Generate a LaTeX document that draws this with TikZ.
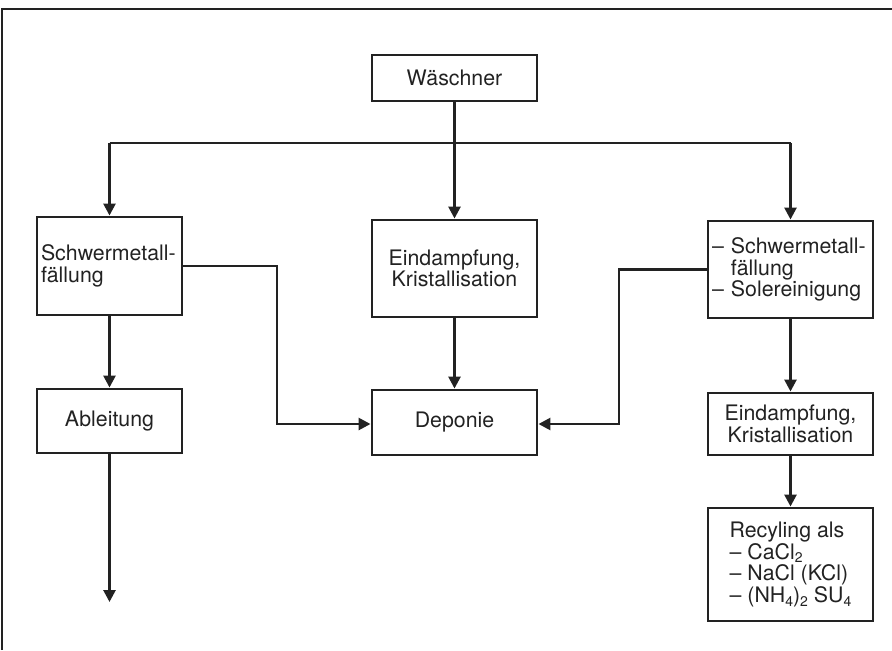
\documentclass[tikz,border=0pt]{standalone}
\usepackage{fontspec}
\setmainfont{TeX Gyre Heros}
\usetikzlibrary{arrows.meta}
\definecolor{ink}{HTML}{222222}
\newcommand{\chemsub}[1]{\raisebox{-2.5pt}{\fontsize{10.5}{10.5}\selectfont #1}}
\begin{document}
\begin{tikzpicture}[x=0.75pt,y=-0.75pt,
  box/.style={draw=ink, line width=2.2pt, text=ink, inner sep=0pt,
    font=\fontsize{16}{16.2}\selectfont, align=center},
  boxL/.style={box, align=left, inner xsep=3pt, text width=102.75pt},
  conn/.style={draw=ink, line width=2pt},
  arr/.style={conn, -{Triangle[length=9pt,width=9pt]}}]
\useasboundingbox (0,0) rectangle (892,650);
\draw[ink, line width=1.2pt] (2,650) -- (2,9) -- (892,9);

\node[box, minimum width=123.75pt, minimum height=34.5pt] (W) at (454.5,78) {Wäschner};
\node[boxL, minimum height=73.5pt] (S) at (109.5,266) {Schwermetall-\\fällung};
\node[box, minimum width=123.75pt, minimum height=72.75pt] (E1) at (454.5,268.5) {Eindampfung,\\Kristallisation};
\node[boxL, minimum height=72.75pt, text width=117.75pt] (R) at (790.5,269.5) {– Schwermetall-\\\phantom{– }fällung\\– Solereinigung};
\node[box, minimum width=108.75pt, minimum height=48pt] (A) at (109.5,421) {Ableitung};
\node[box, minimum width=123.75pt, minimum height=48.75pt] (D) at (454.5,422.5) {Deponie};
\node[box, minimum width=123.75pt, minimum height=46.5pt] (E2) at (790.5,424) {Eindampfung,\\Kristallisation};
\node[box, align=left, minimum width=123.75pt, minimum height=84.75pt,
  font=\fontsize{16}{16.4}\selectfont] (Rec) at (790.5,564.5)
  {Recyling als\\– CaCl\chemsub{2}\\– NaCl (KCl)\\– (NH\chemsub{4})\chemsub{2} SU\chemsub{4}};

\coordinate (top) at (454.5,143);
\coordinate (c1) at (277,424);
\coordinate (c2) at (619,424);
\coordinate (out) at (109.5,602);

\draw[arr] (W.south) -- (E1.north);
\draw[conn] (S.north |- top) -- (R.north |- top);
\draw[arr] (S.north |- top) -- (S.north);
\draw[arr] (R.north |- top) -- (R.north);
\draw[arr] (S.south) -- (A.north);
\draw[arr] (A.south) -- (out);
\draw[arr] (E1.south) -- (D.north);
\draw[arr] (S.east) -| (c1) -- (D.west |- c1);
\draw[arr] (R.west) -| (c2) -- (D.east |- c2);
\draw[arr] (R.south) -- (E2.north);
\draw[arr] (E2.south) -- (Rec.north);
\end{tikzpicture}
\end{document}
